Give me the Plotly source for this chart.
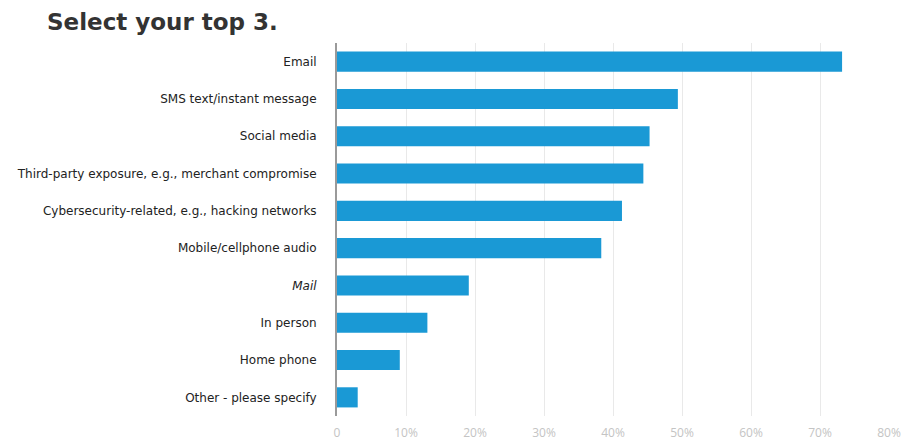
import plotly.graph_objects as go

categories = [
    "Email",
    "SMS text/instant message",
    "Social media",
    "Third-party exposure, e.g., merchant compromise",
    "Cybersecurity-related, e.g., hacking networks",
    "Mobile/cellphone audio",
    "<i>Mail</i>",
    "In person",
    "Home phone",
    "Other - please specify",
]
values = [73.2, 49.4, 45.3, 44.4, 41.3, 38.3, 19.1, 13.1, 9.1, 3.0]
tick_vals = [0, 10, 20, 30, 40, 50, 60, 70, 80]
tick_text = ["0", "10%", "20%", "30%", "40%", "50%", "60%", "70%", "80%"]

fig = go.Figure(
    go.Bar(
        x=values,
        y=categories,
        orientation="h",
        marker=dict(color="#1a99d5", line=dict(width=0)),
        width=0.54,
        hoverinfo="x+y",
    )
)

fig.update_layout(
    width=903,
    height=441,
    margin=dict(l=337, r=14, t=43, b=25, autoexpand=False),
    paper_bgcolor="white",
    plot_bgcolor="white",
    showlegend=False,
    font=dict(family="'DejaVu Sans', sans-serif", color="#222222", size=12),
    title=dict(
        text="<b>Select your top 3.</b>",
        x=47 / 903,
        xanchor="left",
        xref="container",
        y=1 - 22 / 441,
        yanchor="middle",
        yref="container",
        font=dict(family="'DejaVu Sans', sans-serif", size=23, color="#333333"),
    ),
    xaxis=dict(
        range=[0, 80],
        tickvals=tick_vals,
        ticktext=tick_text,
        showgrid=True,
        gridcolor="#e9e9e9",
        gridwidth=1,
        zeroline=False,
        showline=False,
        tickfont=dict(family="'Open Sans', sans-serif", size=12, color="#c4c4c4"),
        ticks="",
        ticklabelstandoff=8,
        ticklabeloverflow="allow",
        automargin=False,
        fixedrange=True,
    ),
    yaxis=dict(
        autorange="reversed",
        showline=True,
        linecolor="#9a9a9a",
        linewidth=2,
        ticks="",
        ticklabelstandoff=16,
        tickfont=dict(size=12, color="#222222"),
        showgrid=False,
        automargin=False,
        fixedrange=True,
    ),
)

fig.write_html("out.html")
